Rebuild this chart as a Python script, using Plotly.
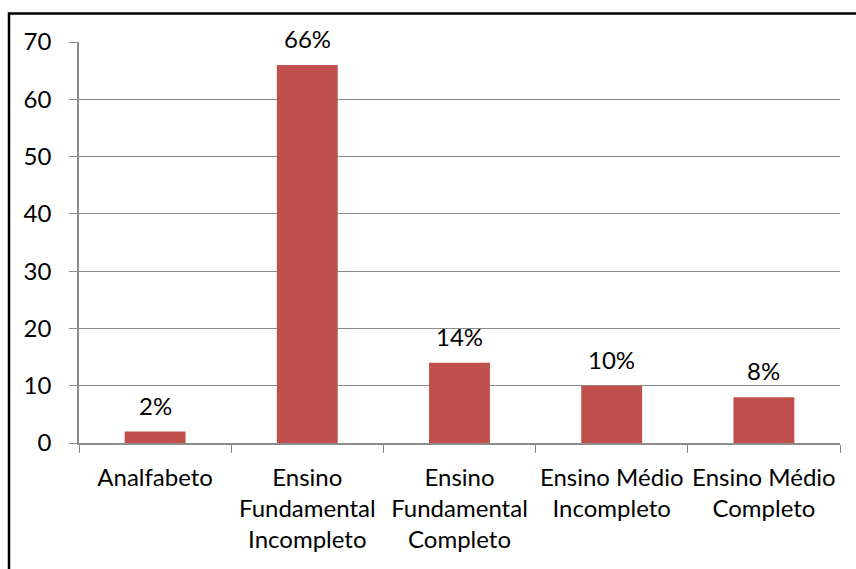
import plotly.graph_objects as go

# Escolaridade dos entrevistados (%)
categorias = [
    "Analfabeto",
    "Ensino<br>Fundamental<br>Incompleto",
    "Ensino<br>Fundamental<br>Completo",
    "Ensino Médio<br>Incompleto",
    "Ensino Médio<br>Completo",
]
valores = [2, 66, 14, 10, 8]
rotulos = [f"{v}%" for v in valores]
y_ticks = [0, 10, 20, 30, 40, 50, 60, 70]

FONT = "Lato"
SIZE = 24
GRID = "#8c8c8c"

fig = go.Figure(
    go.Bar(
        x=categorias,
        y=valores,
        marker=dict(color="#C0504D", line=dict(width=0)),
        width=0.4,
    )
)

# Rótulos de dados acima de cada barra
annotations = [
    dict(
        x=c,
        y=v,
        xref="x",
        yref="y",
        text=t,
        showarrow=False,
        yanchor="bottom",
        yshift=10,
        font=dict(family=FONT, size=SIZE, color="black"),
    )
    for c, v, t in zip(categorias, valores, rotulos)
]

fig.update_layout(
    width=856,
    height=569,
    margin=dict(l=79, r=16, t=42, b=126, autoexpand=False),
    paper_bgcolor="white",
    plot_bgcolor="white",
    showlegend=False,
    font=dict(family=FONT, size=SIZE, color="black"),
    annotations=annotations,
    shapes=[
        dict(
            type="rect",
            xref="paper",
            yref="paper",
            x0=-0.092,
            x1=1.03,
            y0=-0.35,
            y1=1.071,
            line=dict(color="black", width=2.5),
            fillcolor="rgba(0,0,0,0)",
            layer="above",
        )
    ],
)

fig.update_xaxes(
    showline=True,
    linecolor=GRID,
    linewidth=1.5,
    ticks="outside",
    ticklen=8,
    tickcolor=GRID,
    tickson="boundaries",
    tickangle=0,
    automargin=False,
    ticklabelstandoff=12,
    showgrid=False,
    tickfont=dict(family=FONT, size=SIZE),
)
fig.update_yaxes(
    range=[0, 70],
    tickvals=y_ticks,
    showline=True,
    linecolor=GRID,
    linewidth=1.5,
    ticks="outside",
    ticklen=8,
    tickcolor=GRID,
    ticklabelstandoff=13,
    automargin=False,
    showgrid=True,
    gridcolor=GRID,
    gridwidth=1,
    zeroline=False,
    tickfont=dict(family=FONT, size=SIZE),
)

fig.write_html("out.html")
